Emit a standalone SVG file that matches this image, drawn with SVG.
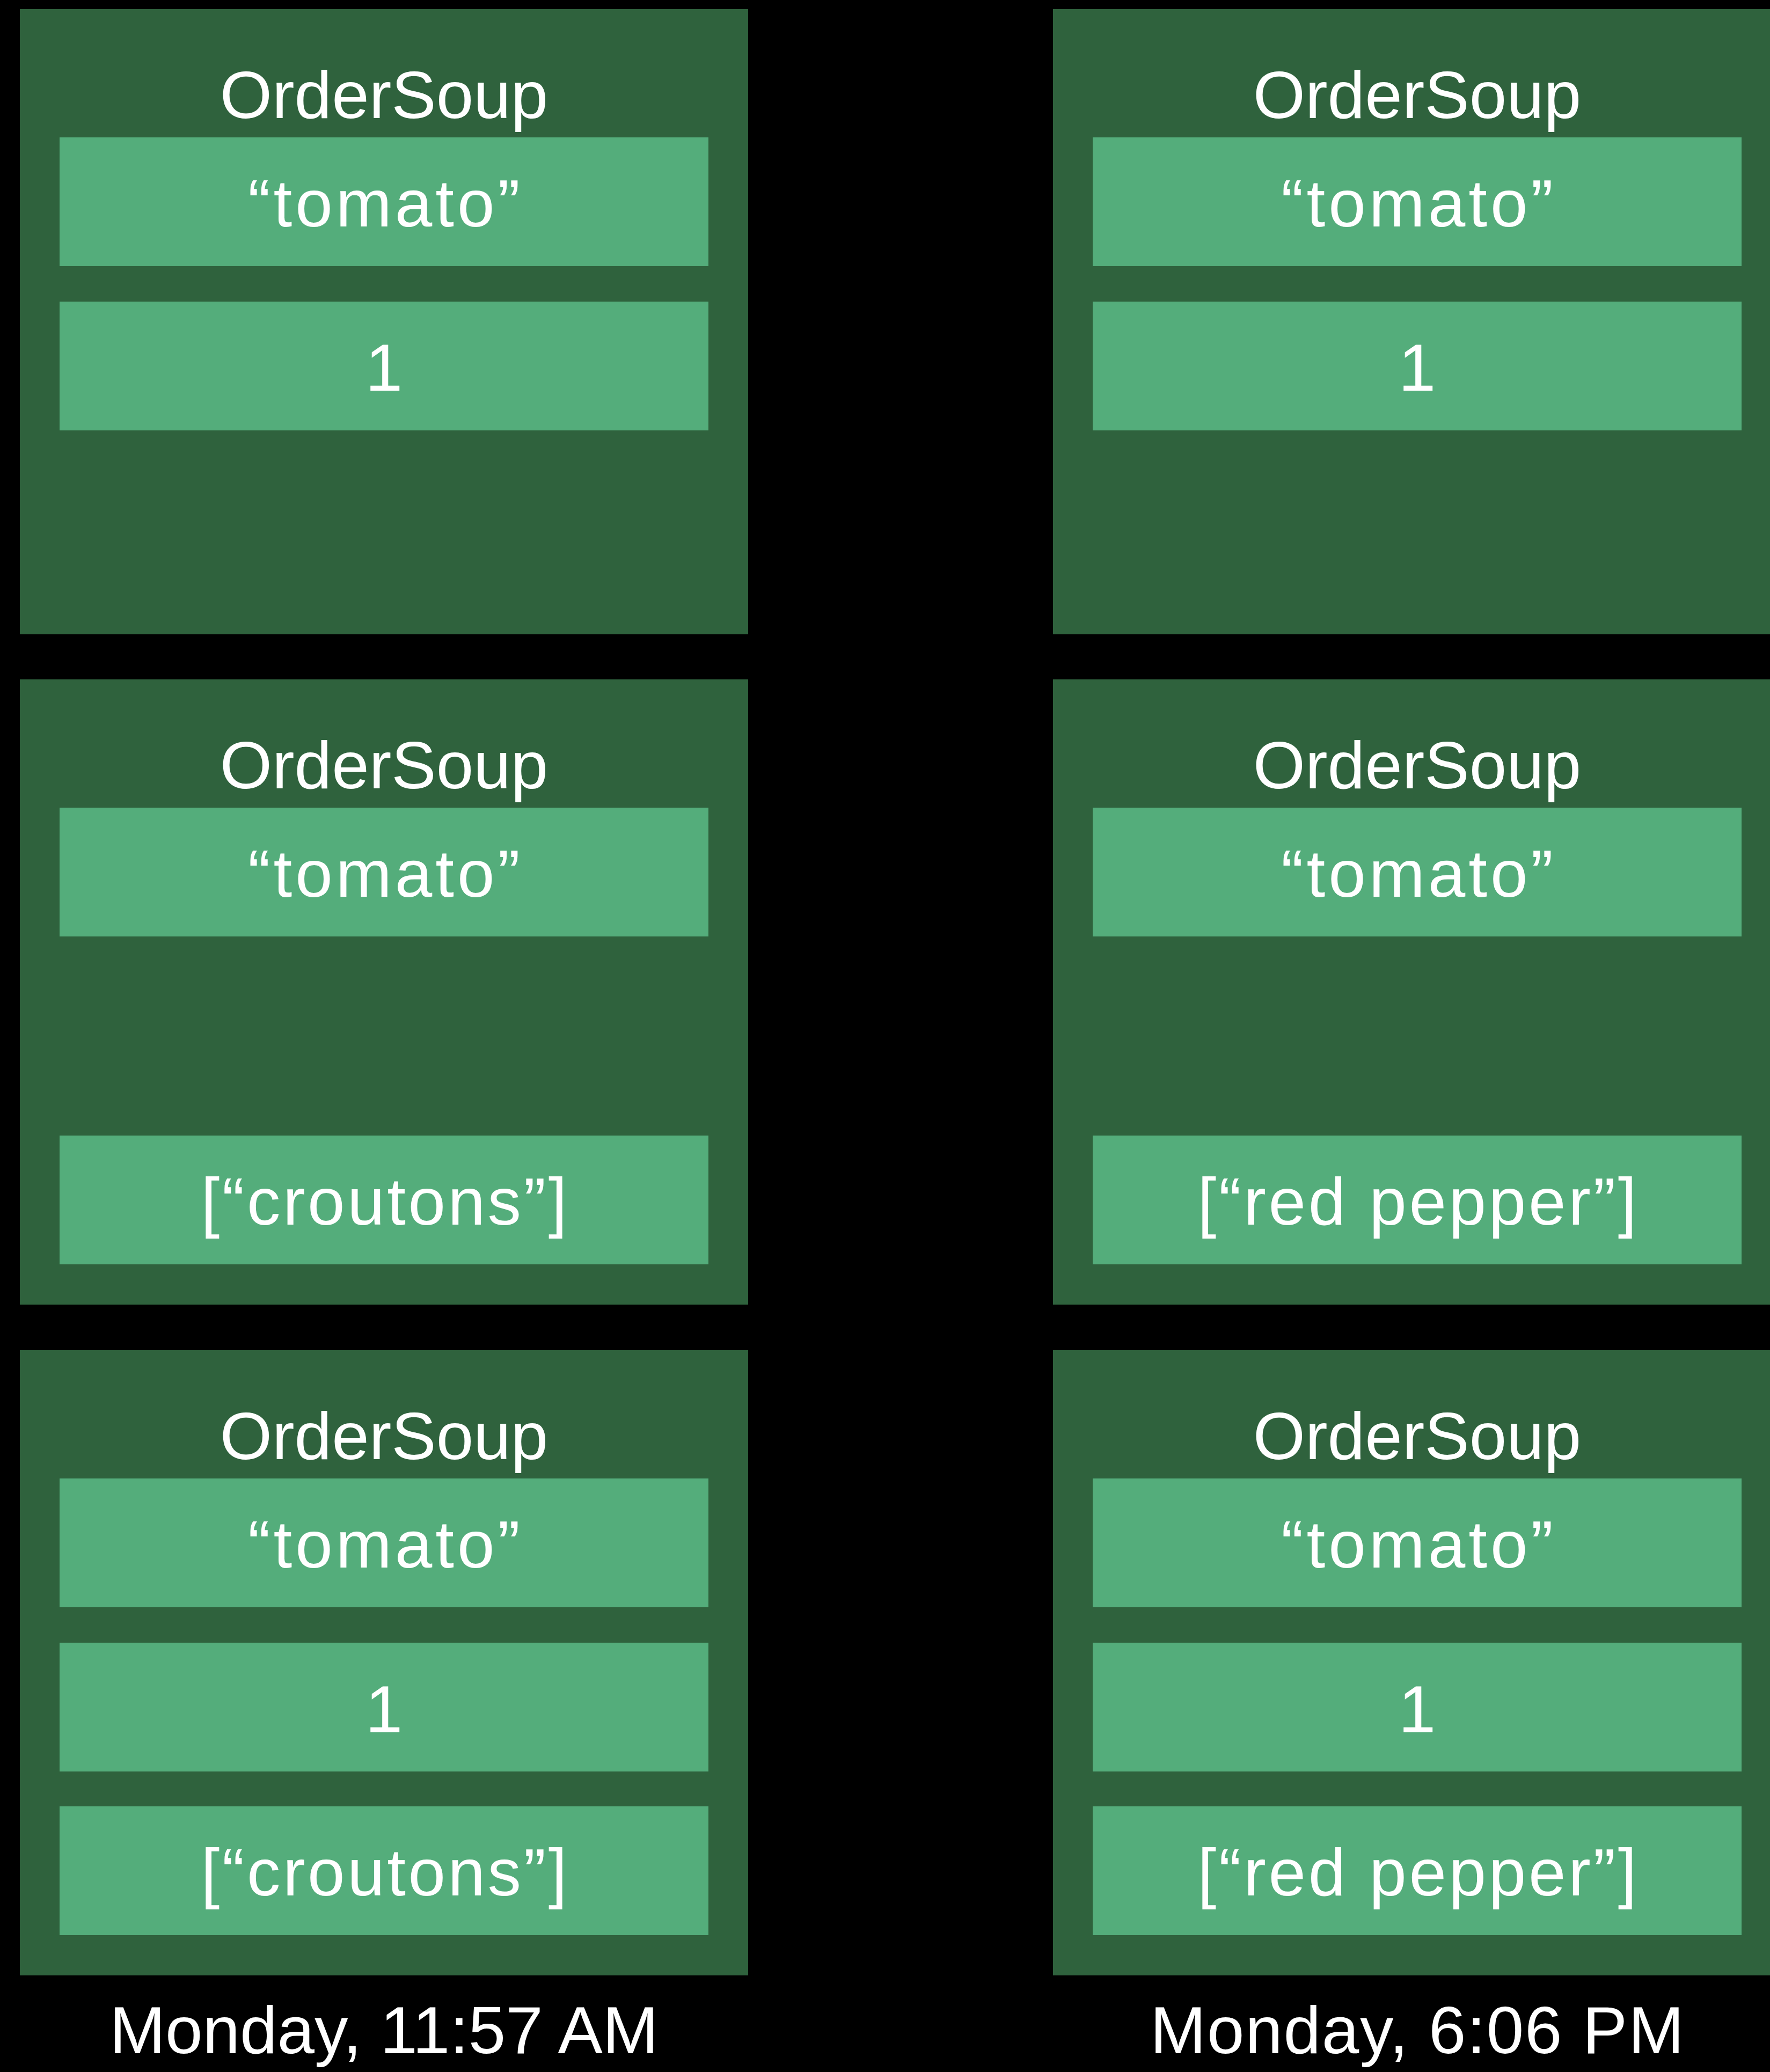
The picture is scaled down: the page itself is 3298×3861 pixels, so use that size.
<svg xmlns="http://www.w3.org/2000/svg" width="3298" height="3861" viewBox="0 0 3298 3861">
<style>
.bg{fill:#000000}
.card{fill:#2F623D}
.field{fill:#54AD7B}
.t{font-family:"Liberation Sans",Arial,sans-serif;font-size:125px;fill:#FFFFFF;text-anchor:middle}
</style>
<rect class="bg" x="0" y="0" width="3298" height="3861"/>
<g id="connectors"></g>
<g id="soup-left-1">
<rect class="card" x="37" y="17" width="1357" height="1165"/>
<text class="t" x="715.5" y="220">OrderSoup</text>
<rect class="field" x="111" y="256" width="1209" height="240"/>
<text class="t" x="715.5" y="422" textLength="507">“tomato”</text>
<rect class="field" x="111" y="562" width="1209" height="240"/>
<text class="t" x="715.5" y="728">1</text>
</g>
<g id="soup-right-1">
<rect class="card" x="1962" y="17" width="1357" height="1165"/>
<text class="t" x="2640.5" y="220">OrderSoup</text>
<rect class="field" x="2036" y="256" width="1209" height="240"/>
<text class="t" x="2640.5" y="422" textLength="507">“tomato”</text>
<rect class="field" x="2036" y="562" width="1209" height="240"/>
<text class="t" x="2640.5" y="728">1</text>
</g>
<g id="soup-left-2">
<rect class="card" x="37" y="1266" width="1357" height="1165"/>
<text class="t" x="715.5" y="1469">OrderSoup</text>
<rect class="field" x="111" y="1505" width="1209" height="240"/>
<text class="t" x="715.5" y="1671" textLength="507">“tomato”</text>
<rect class="field" x="111" y="2116" width="1209" height="240"/>
<text class="t" x="715.5" y="2282" textLength="682">[“croutons”]</text>
</g>
<g id="soup-right-2">
<rect class="card" x="1962" y="1266" width="1357" height="1165"/>
<text class="t" x="2640.5" y="1469">OrderSoup</text>
<rect class="field" x="2036" y="1505" width="1209" height="240"/>
<text class="t" x="2640.5" y="1671" textLength="507">“tomato”</text>
<rect class="field" x="2036" y="2116" width="1209" height="240"/>
<text class="t" x="2640.5" y="2282" textLength="818">[“red pepper”]</text>
</g>
<g id="soup-left-3">
<rect class="card" x="37" y="2516" width="1357" height="1165"/>
<text class="t" x="715.5" y="2719">OrderSoup</text>
<rect class="field" x="111" y="2755" width="1209" height="240"/>
<text class="t" x="715.5" y="2921" textLength="507">“tomato”</text>
<rect class="field" x="111" y="3061" width="1209" height="240"/>
<text class="t" x="715.5" y="3228">1</text>
<rect class="field" x="111" y="3366" width="1209" height="240"/>
<text class="t" x="715.5" y="3532" textLength="682">[“croutons”]</text>
</g>
<g id="soup-right-3">
<rect class="card" x="1962" y="2516" width="1357" height="1165"/>
<text class="t" x="2640.5" y="2719">OrderSoup</text>
<rect class="field" x="2036" y="2755" width="1209" height="240"/>
<text class="t" x="2640.5" y="2921" textLength="507">“tomato”</text>
<rect class="field" x="2036" y="3061" width="1209" height="240"/>
<text class="t" x="2640.5" y="3228">1</text>
<rect class="field" x="2036" y="3366" width="1209" height="240"/>
<text class="t" x="2640.5" y="3532" textLength="818">[“red pepper”]</text>
</g>
<g id="label-left">
<text class="t" x="715.5" y="3826" textLength="1023">Monday, 11:57 AM</text>
</g>
<g id="label-right">
<text class="t" x="2640.5" y="3826" textLength="995">Monday, 6:06 PM</text>
</g>
</svg>
